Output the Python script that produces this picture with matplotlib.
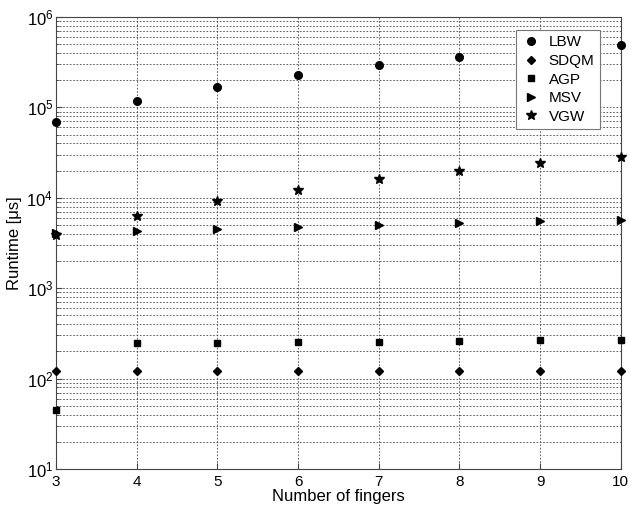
import matplotlib
matplotlib.use("Agg")
import matplotlib.pyplot as plt
from matplotlib.ticker import LogLocator, FixedLocator

plt.rcParams['font.family'] = ['Liberation Sans', 'DejaVu Sans']
plt.rcParams['mathtext.fontset'] = 'custom'
plt.rcParams['mathtext.rm'] = 'Liberation Sans'

fingers = [3, 4, 5, 6, 7, 8, 9, 10]
lbw = [6.9e4, 1.19e5, 1.68e5, 2.28e5, 2.94e5, 3.61e5, 4.2e5, 4.9e5]
sdqm = [121, 120, 120, 120, 120, 120, 120, 120]
agp = [45, 249, 250, 255, 255, 258, 265, 268]
msv = [4110, 4300, 4550, 4700, 5000, 5230, 5500, 5640]
vgw = [3870, 6300, 9290, 12200, 16100, 19950, 24400, 28500]

series = [
    ("LBW", lbw, "o", 5.5),
    ("SDQM", sdqm, "D", 4.2),
    ("AGP", agp, "s", 5),
    ("MSV", msv, ">", 5.5),
    ("VGW", vgw, "*", 7.5),
]

fig = plt.figure(figsize=(6.29, 5.07), dpi=100)
ax = fig.add_axes([0.089, 0.075, 0.898, 0.8915])

for name, vals, mk, ms in series:
    ax.plot(fingers, vals, linestyle="none", marker=mk, markersize=ms,
            color="black", label=name, clip_on=False, zorder=3)

ax.set_yscale("log")
ax.set_xlim(3, 10)
ax.set_ylim(10, 1e6)
ax.xaxis.set_major_locator(FixedLocator(fingers))
ax.yaxis.set_major_locator(LogLocator(base=10, numticks=10))
ax.yaxis.set_minor_locator(LogLocator(base=10, subs=range(2, 10), numticks=20))

grid_kw = dict(color="#444444", linestyle=(0, (2, 2)), linewidth=0.6)
ax.grid(True, which="major", axis="both", **grid_kw)
ax.grid(True, which="minor", axis="y", **grid_kw)
ax.set_axisbelow(True)

ax.tick_params(which="both", direction="in", color="#444444")
ax.tick_params(axis="x", labelsize=11, pad=4)
ax.tick_params(axis="y", labelsize=12, pad=2)
ax.tick_params(which="major", length=4)
ax.tick_params(which="minor", length=2)
for s in ax.spines.values():
    s.set_color("#444444")
    s.set_linewidth(0.8)

ax.set_xlabel("Number of fingers", fontsize=12, labelpad=0)
ax.set_ylabel("Runtime [μs]", fontsize=12, labelpad=3)

leg = ax.legend(loc="upper right", bbox_to_anchor=(0.963, 0.971), borderaxespad=0,
                fontsize=11, frameon=True, fancybox=False, framealpha=1,
                edgecolor="#777777", handletextpad=0.5, borderpad=0.35,
                labelspacing=0.3, handlelength=1.3)
leg.get_frame().set_linewidth(0.8)

fig.savefig("out.png", dpi=100)
